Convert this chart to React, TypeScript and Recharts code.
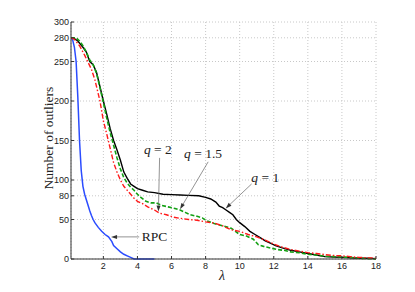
import { LineChart, Line, XAxis, YAxis, CartesianGrid, ReferenceLine, ReferenceDot } from 'recharts'

// λ vs number of outliers
const q1X = [0.1, 0.3, 0.5, 0.8, 1.0, 1.2, 1.4, 1.6, 1.8, 2.0, 2.2, 2.4, 2.6, 2.8, 3.0, 3.2, 3.4, 3.6, 3.8, 4.0, 4.3, 4.6, 5.0, 5.5, 6.0, 6.5, 7.0, 7.6, 8.0, 8.3, 8.6, 8.8, 9.0, 9.2, 9.4, 9.6, 9.8, 10.0, 10.3, 10.6, 10.9, 11.2, 11.5, 11.8, 12.1, 12.5, 13.0, 13.5, 14.0, 14.5, 15.0, 15.5, 16.0, 16.5, 17.0, 17.5, 18.0]
const q1Y = [280, 279, 276, 268, 262, 250, 246, 236, 218, 200, 183, 165, 150, 138, 125, 110, 102, 95, 92, 89, 87, 85, 84, 82, 81.5, 81, 80.5, 80, 78, 76, 72, 67, 65, 62, 59, 56, 50, 46, 41, 35, 31, 27, 23, 20, 17, 14, 11, 9, 7, 5, 3, 2.5, 2, 1.5, 1, 1, 0.5]

const q15X = [0.1, 0.4, 0.6, 0.8, 1.0, 1.2, 1.4, 1.6, 1.8, 2.0, 2.2, 2.4, 2.6, 2.8, 3.0, 3.2, 3.4, 3.6, 3.8, 4.0, 4.2, 4.5, 4.8, 5.1, 5.4, 5.8, 6.2, 6.5, 6.8, 7.1, 7.5, 7.8, 8.1, 8.5, 9.0, 9.5, 10.0, 10.4, 10.8, 11.1, 11.4, 11.8, 12.2, 12.6, 13.0, 13.5, 14.0, 14.5, 15.0, 15.5, 16.0, 16.5, 17.0, 17.5, 18.0]
const q15Y = [280, 280, 276, 270, 262, 252, 246, 235, 217, 198, 178, 160, 144, 128, 114, 103, 96, 91, 87, 82, 78, 73, 71, 71, 68, 66, 64, 62, 59, 56, 54, 52, 48, 45, 42, 39, 31, 29, 25, 18, 16, 14, 12, 11, 9, 8, 6, 5, 3.5, 3, 2.5, 2, 1, 0.5, 0]

const q2X = [0.1, 0.3, 0.6, 0.9, 1.1, 1.3, 1.5, 1.8, 2.0, 2.2, 2.4, 2.6, 2.8, 3.0, 3.2, 3.4, 3.6, 3.8, 4.0, 4.3, 4.6, 5.0, 5.3, 5.7, 6.1, 6.5, 7.0, 7.5, 8.0, 8.5, 9.0, 9.5, 10.0, 10.5, 11.0, 11.5, 12.0, 12.5, 13.0, 13.5, 14.0, 14.5, 15.0, 15.5, 16.0, 16.5, 17.0, 17.5, 18.0]
const q2Y = [280, 278, 270, 258, 249, 240, 227, 200, 175, 158, 140, 122, 110, 100, 92, 87, 82, 77, 73, 70, 66, 62, 58, 56, 53, 51.5, 50, 49, 47, 45.5, 42, 37, 35, 31, 28, 24, 19, 15, 12, 10, 8, 7, 5.5, 4.5, 4, 3, 2, 1.5, 1]

const rpcX = [0.1, 0.2, 0.3, 0.4, 0.5, 0.6, 0.7, 0.8, 0.9, 1.0, 1.1, 1.2, 1.3, 1.4, 1.5, 1.7, 1.9, 2.1, 2.3, 2.5, 2.6, 2.8, 3.0, 3.2, 3.4, 3.6, 3.8, 4.2, 5.0]
const rpcY = [280, 277, 268, 250, 205, 150, 112, 92, 82, 75, 68, 61, 55, 50, 46, 40, 35, 31, 28, 22, 17, 13, 9, 6, 4, 2, 0, 0, 0]

const xTicks = [2, 4, 6, 8, 10, 12, 14, 16, 18]
const yTicks = [0, 50, 80, 100, 150, 200, 250, 280, 300]

const toPts = (xs: number[], ys: number[]) => xs.map((x, i) => ({ x, y: ys[i] }))

const serif = '"Liberation Serif", "Times New Roman", serif'
const sans = '"Liberation Sans", Arial, sans-serif'
const tickFont = { fill: '#222', fontSize: 9, fontFamily: sans }

function Arrow(p: any) {
  const { x1, y1, x2, y2 } = p
  const a = Math.atan2(y2 - y1, x2 - x1)
  const L = 6, W = 2
  const bx = x2 - L * Math.cos(a), by = y2 - L * Math.sin(a)
  const px = -Math.sin(a) * W, py = Math.cos(a) * W
  return (
    <g>
      <line x1={x1} y1={y1} x2={bx} y2={by} stroke="#666" strokeWidth={0.7} />
      <polygon points={`${x2},${y2} ${bx + px},${by + py} ${bx - px},${by - py}`} fill="#333" />
    </g>
  )
}

function qLabel(val: string, anchor: 'middle' | 'start' = 'middle') {
  return (p: any) => (
    <text x={p.cx} y={p.cy} textAnchor={anchor} fontFamily={serif} fontSize={13.5} fill="#222">
      {val.startsWith('q') ? (
        <>
          <tspan fontStyle="italic">q</tspan>
          <tspan>{' = ' + val.slice(1)}</tspan>
        </>
      ) : val}
    </text>
  )
}

export default function App() {
  return (
    <div style={{ position: 'absolute', left: 0, top: 0, width: 415, height: 292, background: '#fff' }}>
      <LineChart width={415} height={292} margin={{ top: 22, right: 39, bottom: 13, left: 41 }}>
        <CartesianGrid stroke="#c8c8c8" strokeDasharray="1 2" />
        <XAxis
          type="number"
          dataKey="x"
          domain={[0.1, 18]}
          ticks={xTicks}
          allowDataOverflow
          height={20}
          stroke="#333"
          tickSize={-3}
          tickMargin={7}
          tick={tickFont}
        />
        <XAxis
          xAxisId="top"
          orientation="top"
          type="number"
          dataKey="x"
          domain={[0.1, 18]}
          ticks={xTicks}
          allowDataOverflow
          height={0}
          stroke="#333"
          tickSize={-3}
          tick={false}
        />
        <YAxis
          type="number"
          dataKey="y"
          domain={[0, 300]}
          ticks={yTicks}
          width={30}
          stroke="#333"
          tickSize={-3}
          tickMargin={5}
          interval={0}
          tick={tickFont}
        />
        <YAxis
          yAxisId="right"
          orientation="right"
          type="number"
          dataKey="y"
          domain={[0, 300]}
          ticks={yTicks}
          width={0}
          stroke="#333"
          tickSize={-3}
          interval={0}
          tick={false}
        />

        <Line data={toPts(rpcX, rpcY)} dataKey="y" stroke="#2b4cff" strokeWidth={1.5} dot={false} isAnimationActive={false} />
        <Line data={toPts(q1X, q1Y)} dataKey="y" stroke="#000" strokeWidth={1.4} dot={false} isAnimationActive={false} />
        <Line data={toPts(q15X, q15Y)} dataKey="y" stroke="#13a013" strokeWidth={1.6} strokeDasharray="4 2" dot={false} isAnimationActive={false} />
        <Line data={toPts(q2X, q2Y)} dataKey="y" stroke="#ff1a1a" strokeWidth={1.4} strokeDasharray="5 2 1.5 2" dot={false} isAnimationActive={false} />

        <ReferenceLine segment={[{ x: 5.3, y: 128 }, { x: 5.23, y: 60 }]} shape={Arrow} />
        <ReferenceLine segment={[{ x: 8.15, y: 123 }, { x: 6.5, y: 63 }]} shape={Arrow} />
        <ReferenceLine segment={[{ x: 10.7, y: 95 }, { x: 9.18, y: 64 }]} shape={Arrow} />
        <ReferenceLine segment={[{ x: 4.1, y: 28 }, { x: 2.45, y: 28 }]} shape={Arrow} />

        <ReferenceDot x={5.2} y={133} r={0} shape={qLabel('q2')} />
        <ReferenceDot x={7.85} y={128} r={0} shape={qLabel('q1.5')} />
        <ReferenceDot x={11.5} y={97.5} r={0} shape={qLabel('q1')} />
        <ReferenceDot x={4.25} y={23} r={0} shape={qLabel('RPC', 'start')} />
      </LineChart>
      {/* axis titles */}
      <div
        style={{
          position: 'absolute', left: 49 - 70, top: 138 - 9, width: 140, height: 18,
          lineHeight: '18px', textAlign: 'center', fontFamily: serif, fontSize: 13.5, color: '#222',
          transform: 'rotate(-90deg)', whiteSpace: 'nowrap',
        }}
      >
        Number of outliers
      </div>
      <div
        style={{
          position: 'absolute', left: 222 - 20, top: 268, width: 40, height: 16,
          lineHeight: '16px', textAlign: 'center', fontFamily: serif, fontSize: 14, fontStyle: 'italic', color: '#222',
        }}
      >
        λ
      </div>
    </div>
  )
}
